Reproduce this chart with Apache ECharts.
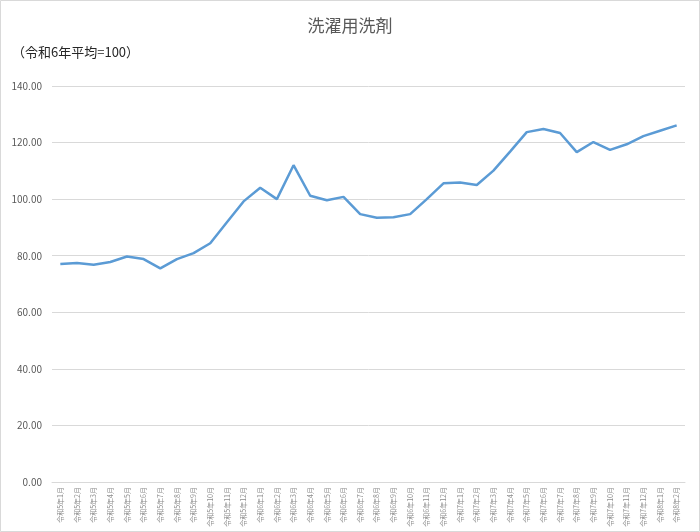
<!DOCTYPE html>
<html>
<head>
<meta charset="utf-8">
<script src="https://cdn.jsdelivr.net/npm/echarts@6/dist/echarts.min.js"></script>
<style>
  html, body { margin: 0; padding: 0; background: #fff; }
  #chart { width: 700px; height: 532px; }
</style>
</head>
<body>
<div id="chart"></div>
<script>
const months = [
    '令和5年1月', '令和5年2月', '令和5年3月', '令和5年4月', '令和5年5月', '令和5年6月',
    '令和5年7月', '令和5年8月', '令和5年9月', '令和5年10月', '令和5年11月', '令和5年12月',
    '令和6年1月', '令和6年2月', '令和6年3月', '令和6年4月', '令和6年5月', '令和6年6月',
    '令和6年7月', '令和6年8月', '令和6年9月', '令和6年10月', '令和6年11月', '令和6年12月',
    '令和7年1月', '令和7年2月', '令和7年3月', '令和7年4月', '令和7年5月', '令和7年6月',
    '令和7年7月', '令和7年8月', '令和7年9月', '令和7年10月', '令和7年11月', '令和7年12月',
    '令和8年1月', '令和8年2月',
];

const detergentIndex = [
    77.1, 77.4, 76.8, 77.8, 79.7, 78.8, 75.5, 78.8, 80.9, 84.4, 91.8, 99.2,
    104.0, 100.0, 112.0, 101.2, 99.6, 100.8, 94.7, 93.4, 93.6, 94.7, 100.0, 105.6,
    105.9, 105.0, 110.1, 116.8, 123.7, 124.8, 123.4, 116.6, 120.2, 117.4, 119.4, 122.3,
    124.2, 126.1,
];

const chartTitle = '洗濯用洗剤';
const baseNote = '（令和6年平均=100）';

const font = '"Noto Sans CJK JP", "Noto Sans", sans-serif';

const chart = echarts.init(document.getElementById('chart'), null, { renderer: 'canvas' });

chart.setOption({
    backgroundColor: '#ffffff',
    animation: false,
    title: {
        text: chartTitle,
        left: 'center',
        top: 12,
        textStyle: { color: '#595959', fontSize: 17, fontWeight: 'normal', fontFamily: font },
    },
    graphic: [
        {
            type: 'rect',
            shape: { x: 0.5, y: 0.5, width: 699, height: 531 },
            style: { fill: 'none', stroke: '#d9d9d9', lineWidth: 1 },
            silent: true,
        },
        {
            type: 'text',
            left: 12,
            top: 46,
            style: { text: baseNote, fill: '#262626', fontSize: 13, fontFamily: font },
        },
    ],
    grid: { left: 52, right: 15, top: 86, bottom: 50, containLabel: false },
    xAxis: {
        type: 'category',
        data: months,
        boundaryGap: true,
        axisLine: { lineStyle: { color: '#d9d9d9' } },
        axisTick: { show: false },
        axisLabel: {
            interval: 0,
            rotate: 90,
            margin: 5,
            color: '#8c8c8c',
            fontSize: 7,
            fontFamily: font,
        },
    },
    yAxis: {
        type: 'value',
        min: 0,
        max: 140,
        interval: 20,
        axisLine: { show: false },
        axisTick: { show: false },
        axisLabel: {
            margin: 10,
            color: '#595959',
            fontSize: 10,
            fontFamily: font,
            formatter: (value) => value.toFixed(2),
        },
        splitLine: { lineStyle: { color: '#d9d9d9' } },
    },
    series: [
        {
            name: chartTitle,
            type: 'line',
            data: detergentIndex,
            showSymbol: false,
            smooth: false,
            color: '#5b9bd5',
            lineStyle: { width: 2.5, color: '#5b9bd5' },
        },
    ],
});
</script>
</body>
</html>
